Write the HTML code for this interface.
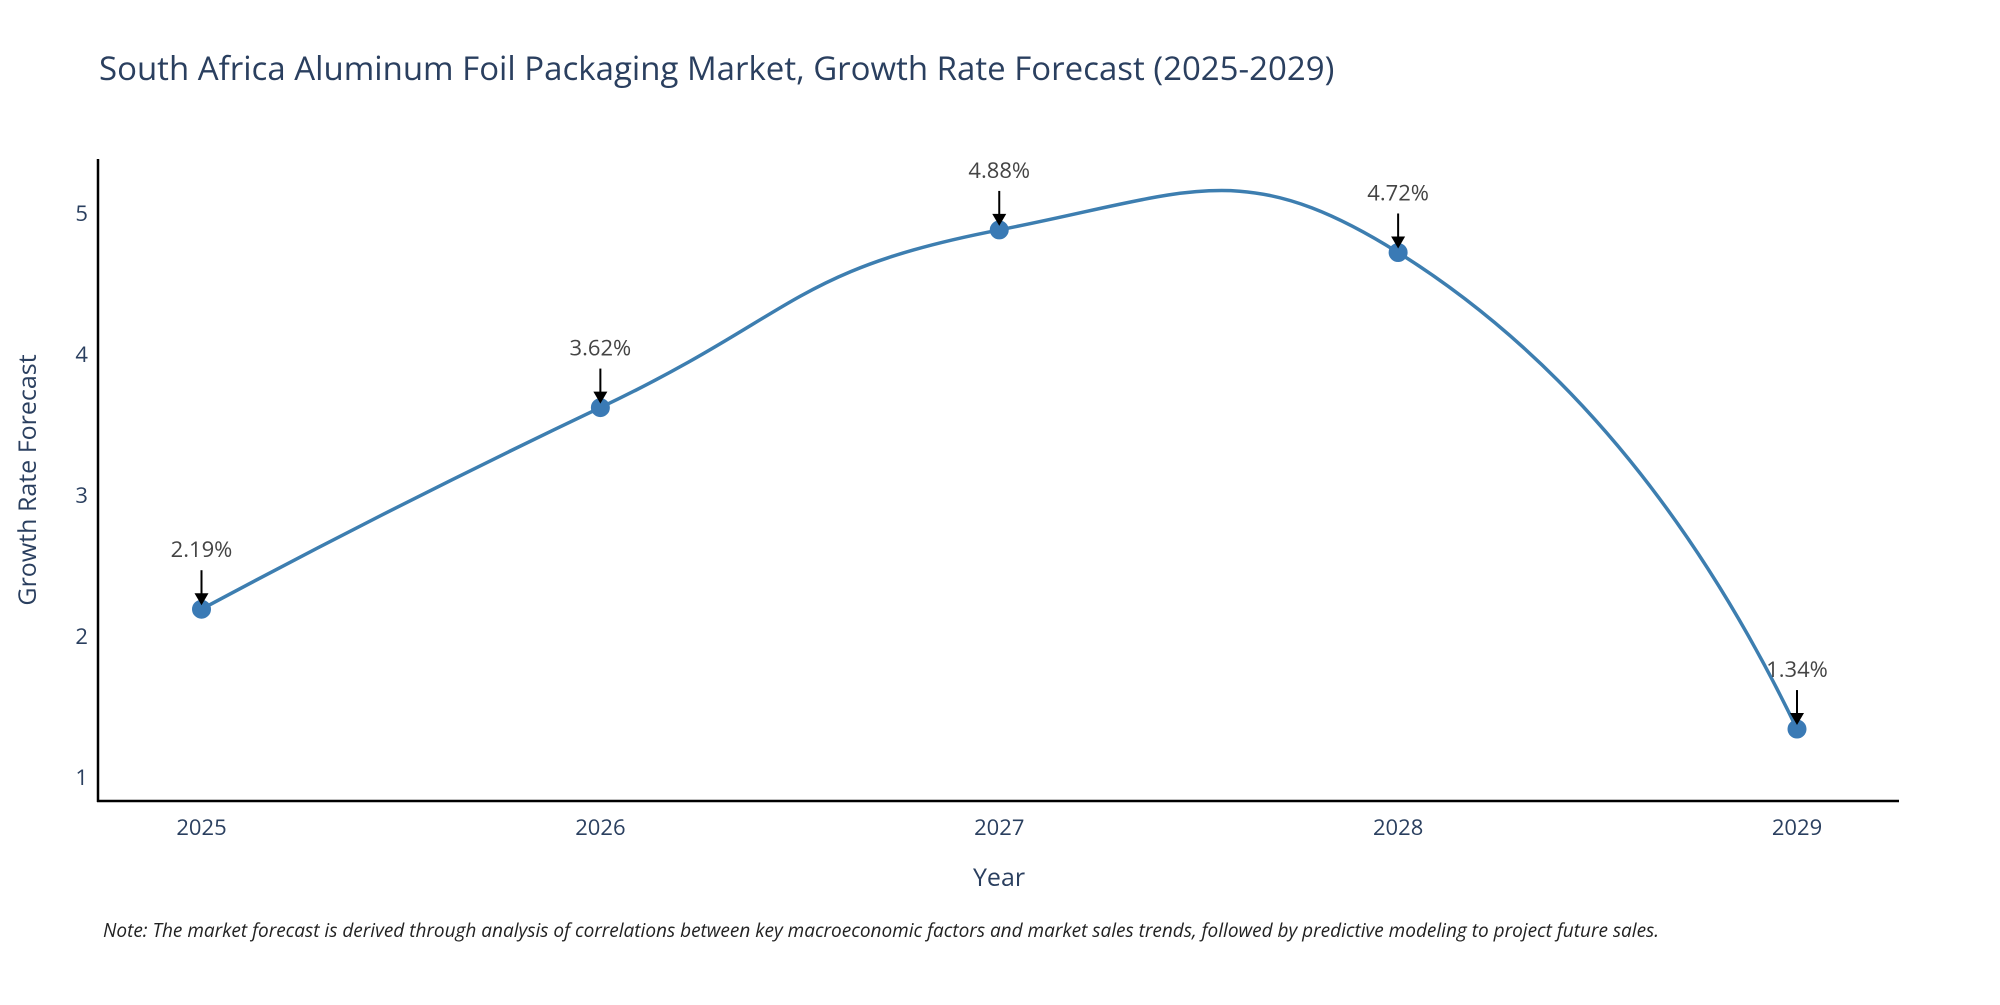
<!DOCTYPE html>
<html><head><meta charset="utf-8"><style>
body{margin:0;background:#fff;}
svg text{font-family:"Open Sans","Liberation Sans","DejaVu Sans",sans-serif;}
</style></head><body>
<svg id="chart" width="2000" height="1000" xmlns="http://www.w3.org/2000/svg">
<text x="99" y="80" font-size="33" fill="#2a3f5f">South Africa Aluminum Foil Packaging Market, Growth Rate Forecast (2025-2029)</text>
<g id="yticks"></g>
<g id="xticks"></g>
<line x1="98" y1="159" x2="98" y2="802" stroke="#000" stroke-width="2.5"/>
<line x1="97" y1="801" x2="1899" y2="801" stroke="#000" stroke-width="2.5"/>
<text transform="translate(36,480) rotate(-90)" text-anchor="middle" font-size="25" fill="#2a3f5f">Growth Rate Forecast</text>
<text x="999" y="886" text-anchor="middle" font-size="25" fill="#2a3f5f">Year</text>
<g id="series"></g>
<g id="annots"></g>
<text x="103" y="937" font-size="19" font-style="italic" fill="#222">Note: The market forecast is derived through analysis of correlations between key macroeconomic factors and market sales trends, followed by predictive modeling to project future sales.</text>
</svg>
<script>
const years = ["2025","2026","2027","2028","2029"];
const growth = [2.19, 3.62, 4.88, 4.72, 1.34];
const labels = ["2.19%","3.62%","4.88%","4.72%","1.34%"];
const yTicks = [1,2,3,4,5];

const NS="http://www.w3.org/2000/svg";
const x0=201.5,x1=1797;
function xs(i){return x0+(x1-x0)*i/(years.length-1);}
function ys(v){return 777-(v-1)*(777-213)/4;}
function mk(tag,attrs,parent){const e=document.createElementNS(NS,tag);for(const k in attrs)e.setAttribute(k,attrs[k]);parent.appendChild(e);return e;}
const yt=document.getElementById('yticks');
yTicks.forEach(v=>{const t=mk('text',{x:88,y:ys(v)+8,'text-anchor':'end','font-size':22,fill:'#2a3f5f'},yt);


t.textContent=v;});
const xt=document.getElementById('xticks');
years.forEach((y,i)=>{const t=mk('text',{x:xs(i),y:835,'text-anchor':'middle','font-size':22,fill:'#2a3f5f'},xt);


t.textContent=y;});
// spline
const P=growth.map((v,i)=>[xs(i),ys(v)]);
const k=0.5;
const C=[];
for(let i=1;i<P.length-1;i++){
 const d1=Math.hypot(P[i][0]-P[i-1][0],P[i][1]-P[i-1][1]);
 const d2=Math.hypot(P[i+1][0]-P[i][0],P[i+1][1]-P[i][1]);
 const dx=P[i+1][0]-P[i-1][0],dy=P[i+1][1]-P[i-1][1];
 const a=k*d1/(d1+d2),b=k*d2/(d1+d2);
 C[i]=[[P[i][0]-dx*a,P[i][1]-dy*a],[P[i][0]+dx*b,P[i][1]+dy*b]];
}
let d=`M${P[0][0]},${P[0][1]}`;
const n=P.length;
d+=` Q${C[1][0][0]},${C[1][0][1]} ${P[1][0]},${P[1][1]}`;
for(let i=1;i<n-2;i++){d+=` C${C[i][1][0]},${C[i][1][1]} ${C[i+1][0][0]},${C[i+1][0][1]} ${P[i+1][0]},${P[i+1][1]}`;}
d+=` Q${C[n-2][1][0]},${C[n-2][1][1]} ${P[n-1][0]},${P[n-1][1]}`;
const s=document.getElementById('series');
const line=mk('path',{d:d,fill:'none',stroke:'#3d7eb0','stroke-width':3.5},s);


const an=document.getElementById('annots');
P.forEach((p,i)=>{
 const c=mk('circle',{cx:p[0],cy:p[1],r:9,fill:'#3a7ab5',stroke:'#3a7ab5'},s);
 
 
 const l=mk('line',{x1:p[0],y1:p[1]-39,x2:p[0],y2:p[1]-12,stroke:'#000','stroke-width':2},an);
 
 
 const h=mk('path',{d:`M${p[0]-7},${p[1]-16} L${p[0]+7},${p[1]-16} L${p[0]},${p[1]-4} Z`,fill:'#000'},an);
 
 
 const t=mk('text',{x:p[0],y:p[1]-52,'text-anchor':'middle','font-size':22,fill:'#444'},an);
 
 
 t.textContent=labels[i];
});
</script>
</body></html>
